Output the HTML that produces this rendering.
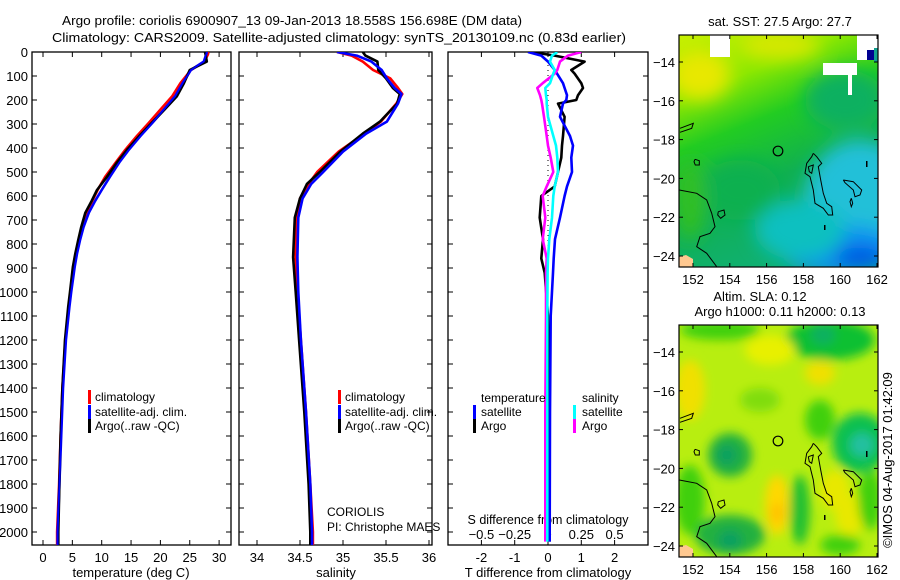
<!DOCTYPE html>
<html><head><meta charset="utf-8"><style>
html,body{margin:0;padding:0;background:#fff;}
svg{display:block;font-family:"Liberation Sans",sans-serif;}
text{fill:#000;}
</style></head><body>
<svg id="root" width="900" height="580" viewBox="0 0 900 580" xmlns="http://www.w3.org/2000/svg">
<defs>
<clipPath id="c1"><rect x="32" y="52" width="199" height="493"/></clipPath>
<clipPath id="c2"><rect x="239" y="52" width="193" height="493"/></clipPath>
<clipPath id="c3"><rect x="448" y="52" width="200" height="493"/></clipPath>
<clipPath id="m1"><rect x="679" y="35" width="199" height="232"/></clipPath>
<clipPath id="m2"><rect x="679" y="325" width="199" height="232"/></clipPath>
<filter id="bl" x="-50%" y="-50%" width="200%" height="200%"><feGaussianBlur stdDeviation="9"/></filter>
<filter id="bl2" x="-50%" y="-50%" width="200%" height="200%"><feGaussianBlur stdDeviation="5"/></filter>
<linearGradient id="sstg" x1="0" y1="0" x2="0.35" y2="1">
<stop offset="0" stop-color="#c8f000"/><stop offset="0.25" stop-color="#8ce800"/><stop offset="0.45" stop-color="#22cc22"/><stop offset="0.7" stop-color="#10b050"/><stop offset="1" stop-color="#10b070"/>
</linearGradient>
</defs>
<text x="292" y="25" font-size="13" text-anchor="middle" textLength="460" lengthAdjust="spacingAndGlyphs">Argo profile: coriolis 6900907_13 09-Jan-2013 18.558S 156.698E (DM data)</text>
<text x="339" y="42" font-size="13" text-anchor="middle" textLength="574" lengthAdjust="spacingAndGlyphs">Climatology: CARS2009. Satellite-adjusted climatology: synTS_20130109.nc (0.83d earlier)</text>
<g id="plots"></g>
<g id="maps"></g>
</svg>
<script>
// ---- Data ----
const tDepth = [0,10,40,75,130,185,240,296,350,408,460,520,575,620,670,730,784,840,895,1000,1062,1200,1400,1600,1800,2000,2055];
const tArgo  = [27.6,27.7,27.9,25.0,24.0,22.8,20.7,18.5,16.4,14.3,12.6,10.9,9.2,8.3,7.2,6.5,6.0,5.5,5.1,4.6,4.3,3.75,3.3,3.0,2.8,2.6,2.6];
const tClim  = [28.2,28.1,27.5,25.2,23.4,22.0,20.0,18.0,16.0,14.0,12.4,10.6,9.3,8.4,7.6,6.8,6.2,5.7,5.3,4.7,4.4,3.8,3.3,3.0,2.75,2.4,2.4];
const tSat   = [27.9,27.8,27.4,25.2,23.8,22.5,20.6,18.6,16.6,14.6,13.0,11.4,10.0,8.9,7.8,6.9,6.3,5.8,5.4,4.8,4.5,3.9,3.4,3.1,2.8,2.5,2.5];
const sDepth = [0,15,40,75,110,150,175,215,290,340,415,500,550,610,690,855,1000,1200,1500,1800,2000,2055];
const sArgo  = [35.23,35.26,35.40,35.41,35.50,35.58,35.66,35.63,35.43,35.23,34.97,34.73,34.58,34.50,34.44,34.42,34.45,34.49,34.55,34.60,34.62,34.62];
const sClim  = [34.93,35.10,35.23,35.35,35.55,35.64,35.69,35.62,35.44,35.25,34.95,34.70,34.60,34.50,34.46,34.45,34.47,34.51,34.57,34.62,34.65,34.65];
const sSat   = [34.93,35.16,35.33,35.45,35.51,35.60,35.68,35.64,35.51,35.27,35.00,34.77,34.63,34.53,34.48,34.47,34.48,34.51,34.57,34.62,34.64,34.64];
const dDepth = [0,15,40,75,90,130,150,180,200,215,270,350,390,440,500,560,600,690,780,860,920,1100,1500,2000,2040];
const dTArgo = [-0.5,0.2,1.1,0.7,0.8,1.0,1.05,0.9,0.85,0.3,0.5,0.45,0.42,0.4,0.3,0.2,-0.2,-0.25,-0.15,-0.2,-0.1,0.0,0.05,0.05,0.05];
const dTSat  = [-0.6,-0.2,0.0,0.2,0.27,0.45,0.5,0.57,0.55,0.45,0.36,0.66,0.75,0.7,0.72,0.57,0.5,0.36,0.21,0.17,0.15,0.08,0.06,0.05,0.05];
const dSSat  = [0.07,0.03,0.015,0.05,0.04,0.015,-0.02,-0.015,-0.01,-0.01,0.0,0.04,0.06,0.07,0.075,0.05,0.04,0.03,0.01,0.0,-0.003,-0.005,-0.005,-0.005,-0.005];
const dSArgo = [0.25,0.15,0.09,0.07,0.05,-0.04,-0.08,-0.06,-0.05,-0.045,-0.03,-0.01,0.0,0.02,0.04,-0.01,-0.04,-0.02,-0.04,-0.01,-0.015,-0.015,-0.02,-0.02,-0.02];
const depthTicks = [0,100,200,300,400,500,600,700,800,900,1000,1100,1200,1300,1400,1500,1600,1700,1800,1900,2000];
const tTicks = [0,5,10,15,20,25,30];
const sTicks = [34,34.5,35,35.5,36];
const dTTicks = [-2,-1,0,1,2];
const dSTicks = [-0.5,-0.25,0,0.25,0.5];
const lonTicks = [152,154,156,158,160,162];
const latTicks = [-14,-16,-18,-20,-22,-24];

const NS='http://www.w3.org/2000/svg';
const plots=document.getElementById('plots');
function mk(tag,attrs,parent){const e=document.createElementNS(NS,tag);for(const k in attrs)e.setAttribute(k,attrs[k]);(parent||plots).appendChild(e);return e;}
const TOP=52, BOT=545;
const Y=d=>52+d*0.24;
const xT=v=>43+v*5.87;
const xS=v=>257+(v-34)*86;
const xD=v=>548+v*33.3;
const xDS=v=>548+v*133.2;

function frame(x0,x1,name,labels){
  const g=mk('g',{});
  
  
  mk('rect',{x:x0,y:TOP,width:x1-x0,height:BOT-TOP,fill:'none',stroke:'#000','stroke-width':1.3},g);
  depthTicks.forEach(d=>{
    mk('line',{x1:x0,y1:Y(d),x2:x0+5,y2:Y(d),stroke:'#000'},g);
    mk('line',{x1:x1-5,y1:Y(d),x2:x1,y2:Y(d),stroke:'#000'},g);
    if(labels){const t=mk('text',{x:x0-4,y:Y(d)+5,'font-size':13,'text-anchor':'end'},g);t.textContent=d;
      }
  });
  return g;
}
function xticks(g,ticks,fx,top,bottom,labelY,fmt){
  ticks.forEach(v=>{
    const x=fx(v);
    if(top) mk('line',{x1:x,y1:TOP,x2:x,y2:TOP+5,stroke:'#000'},g);
    if(bottom) mk('line',{x1:x,y1:BOT-5,x2:x,y2:BOT,stroke:'#000'},g);
    if(labelY){const t=mk('text',{x:x,y:labelY,'font-size':13,'text-anchor':'middle'},g);t.textContent=fmt?fmt(v):v;
      }
  });
}
function line(xs,ds,fx,color,clip,name,w){
  let p='';xs.forEach((v,i)=>{p+=(i?'L':'M')+fx(v).toFixed(1)+','+Y(ds[i]).toFixed(1);});
  const e=mk('path',{d:p,fill:'none',stroke:color,'stroke-width':w||2.6,'clip-path':'url(#'+clip+')','stroke-linejoin':'round'});
  
  
}
function txt(x,y,s,name,anchor,size){const t=mk('text',{x:x,y:y,'font-size':size||12,'text-anchor':anchor||'start'});t.textContent=s;
  return t;}
function mark(x,y,c){mk('rect',{x:x,y:y-11,width:3,height:14,fill:c});}

// Panel 1
const g1=frame(32,231,'temperature-panel',true);
xticks(g1,tTicks,xT,true,true,562);
txt(131,577,'temperature (deg C)','temperature-axis-title','middle',13);
line(tClim,tDepth,xT,'#ff0000','c1','line-temp-climatology');
line(tSat,tDepth,xT,'#0000ff','c1','line-temp-satellite');
line(tArgo,tDepth,xT,'#000000','c1','line-temp-argo');
line(tSat,tDepth,xT,'#0000ff','c1','line-temp-satellite-top',1.8);
mark(88,401,'#ff0000');txt(95,401,'climatology','legend-climatology');
mark(88,416,'#0000ff');txt(95,416,'satellite-adj. clim.','legend-satellite');
mark(88,430,'#000');txt(95,430,'Argo(..raw -QC)','legend-argo');

// Panel 2
const g2=frame(239,432,'salinity-panel',false);
xticks(g2,sTicks,xS,true,true,562);
txt(336,577,'salinity','salinity-axis-title','middle',13);
line(sClim,sDepth,xS,'#ff0000','c2','line-sal-climatology');
line(sArgo,sDepth,xS,'#000000','c2','line-sal-argo');
line(sSat,sDepth,xS,'#0000ff','c2','line-sal-satellite');
mark(338,401,'#ff0000');txt(345,401,'climatology','legend2-climatology');
mark(338,416,'#0000ff');txt(345,416,'satellite-adj. clim.','legend2-satellite');
mark(338,430,'#000');txt(345,430,'Argo(..raw -QC)','legend2-argo');
txt(327,516,'CORIOLIS','institution-label');
txt(327,531,'PI: Christophe MAES','pi-label');

// Panel 3
const g3=frame(448,648,'difference-panel',false);
xticks(g3,dTTicks,xD,true,true,562);
xticks(g3,dSTicks,xDS,false,false,539,v=>v<0?'\u2212'+(-v):v);
txt(548,577,'T difference from climatology','t-diff-axis-title','middle',13);
txt(548,524,'S difference from climatology','s-diff-axis-title','middle',12.5);
mk('line',{x1:548,y1:60,x2:548,y2:532,stroke:'#000','stroke-dasharray':'1,4','stroke-width':1});
line(dTArgo,dDepth,xD,'#000000','c3','line-tdiff-argo');
line(dTSat,dDepth,xD,'#0000ff','c3','line-tdiff-satellite');
line(dSArgo,dDepth,xDS,'#ff00ff','c3','line-sdiff-argo');
line(dSSat,dDepth,xDS,'#00ffff','c3','line-sdiff-satellite');
txt(481,402,'temperature','legend3-temperature-heading');
mark(473,416,'#0000ff');txt(481,416,'satellite','legend3-t-satellite');
mark(473,430,'#000');txt(481,430,'Argo','legend3-t-argo');
txt(582,402,'salinity','legend3-salinity-heading');
mark(573,416,'#00ffff');txt(582,416,'satellite','legend3-s-satellite');
mark(573,430,'#ff00ff');txt(582,430,'Argo','legend3-s-argo');

// ---- Maps ----
const maps=document.getElementById('maps');
function mm(tag,attrs,parent){const e=document.createElementNS(NS,tag);for(const k in attrs)e.setAttribute(k,attrs[k]);(parent||maps).appendChild(e);return e;}
function coast(g,oy){
  const s=(pts)=>pts.map((p,i)=>(i?'L':'M')+(650+p[0]/3).toFixed(1)+','+(oy+p[1]/3).toFixed(1)).join('');
  const paths=[
   [[490,460],[500,470],[515,490],[505,500],[512,540],[520,580],[530,610],[545,620],[548,645],[535,645],[520,625],[495,610],[490,570],[480,530],[465,520],[470,490],[485,470],[490,460]],
   [[90,385],[130,370],[125,385],[90,397]],
   [[88,570],[140,580],[170,600],[185,640],[195,680],[180,700],[150,710],[140,740],[170,760],[200,800]],
   [[580,540],[610,545],[635,570],[630,585],[615,590],[610,570],[585,548],[580,540]],
   [[205,635],[222,630],[225,645],[212,655],[203,645],[205,635]],
   [[135,478],[148,482],[148,495],[136,495],[132,485],[135,478]],
   [[475,500],[490,495],[485,520],[478,515],[475,500]],
   [[604,595],[608,610],[604,620],[600,605],[604,595]]
  ];
  paths.forEach(p=>{mm('path',{d:s(p),fill:'none',stroke:'#000','stroke-width':1},g);});
  mm('circle',{cx:778,cy:oy+151,r:4.8,fill:'none',stroke:'#000','stroke-width':1.2},g);
  mm('rect',{x:866,y:oy+161,width:1.5,height:6,fill:'#000'},g);
  mm('rect',{x:824,y:oy+225,width:1.5,height:5,fill:'#000'},g);
  mm('path',{d:'M679,'+(oy+257)+'L686,'+(oy+255)+'L693,'+(oy+259)+'L693,'+(oy+267)+'L679,'+(oy+267)+'Z',fill:'#ffc890'},g);
}
function mapAxes(g,oy,name){
  const X=l=>693+(l-152)*18.4, Yl=l=>oy+62+(-14-l)*19.4;
  mm('rect',{x:679,y:oy+35,width:199,height:232,fill:'none',stroke:'#000','stroke-width':1.2},g);
  lonTicks.forEach(l=>{mm('line',{x1:X(l),y1:oy+35,x2:X(l),y2:oy+39,stroke:'#000'},g);mm('line',{x1:X(l),y1:oy+263,x2:X(l),y2:oy+267,stroke:'#000'},g);
    const t=mm('text',{x:X(l),y:oy+284,'font-size':13,'text-anchor':'middle'},g);t.textContent=l;
    });
  latTicks.forEach(l=>{mm('line',{x1:679,y1:Yl(l),x2:683,y2:Yl(l),stroke:'#000'},g);mm('line',{x1:874,y1:Yl(l),x2:878,y2:Yl(l),stroke:'#000'},g);
    const t=mm('text',{x:675,y:Yl(l)+5,'font-size':13,'text-anchor':'end'},g);t.textContent='\u2212'+(-l);
    });
}
// SST map
const mg1=mm('g',{});


const f1=mm('g',{'clip-path':'url(#m1)'},mg1);
mm('rect',{x:679,y:35,width:199,height:232,fill:'url(#sstg)'},f1);
const b1=mm('g',{filter:'url(#bl)'},f1);
mm('ellipse',{cx:700,cy:75,rx:30,ry:25,fill:'#e8e800'},b1);
mm('ellipse',{cx:780,cy:45,rx:40,ry:14,fill:'#d8e800'},b1);
mm('ellipse',{cx:845,cy:100,rx:40,ry:30,fill:'#10b060'},b1);
mm('ellipse',{cx:860,cy:200,rx:55,ry:60,fill:'#20c0d8'},b1);
mm('ellipse',{cx:840,cy:250,rx:60,ry:25,fill:'#1090f0'},b1);
mm('ellipse',{cx:800,cy:230,rx:45,ry:30,fill:'#10c0c0'},b1);
mm('ellipse',{cx:740,cy:190,rx:40,ry:30,fill:'#10b050'},b1);
mm('ellipse',{cx:690,cy:200,rx:15,ry:40,fill:'#30c020'},b1);
mm('ellipse',{cx:860,cy:257,rx:25,ry:10,fill:'#0050e0'},b1);
mm('rect',{x:710,y:35,width:20,height:22,fill:'#fff'},f1);
mm('rect',{x:823,y:63,width:34,height:12,fill:'#fff'},f1);
mm('rect',{x:848,y:63,width:4,height:32,fill:'#fff'},f1);
mm('rect',{x:857,y:35,width:21,height:25,fill:'#fff'},f1);
mm('rect',{x:867,y:50,width:7,height:10,fill:'#000090'},f1);
mm('rect',{x:874,y:48,width:4,height:14,fill:'#10a090'},f1);
coast(f1,0);
mapAxes(mg1,0,'sst-map');
txt(780,26,'sat. SST: 27.5 Argo: 27.7','sst-map-title','middle',13);
// SLA map
const mg2=mm('g',{});


const f2=mm('g',{'clip-path':'url(#m2)'},mg2);
mm('rect',{x:679,y:325,width:199,height:232,fill:'#b8ee10'},f2);
const b2=mm('g',{filter:'url(#bl2)'},f2);
[[830,340,45,20,'#10c030'],[823,335,12,10,'#10b060'],[720,330,40,10,'#40d010'],[730,455,22,22,'#20b040'],[727,455,10,10,'#10a060'],
 [860,443,28,30,'#10c050'],[862,445,12,12,'#20c0a0'],[730,535,35,20,'#20b040'],[730,540,12,10,'#10a060'],[690,390,15,30,'#f0e000'],
 [777,505,12,30,'#ffd800'],[777,513,6,10,'#ffc000'],[820,373,15,12,'#f0e000'],[770,350,25,15,'#e8f000'],[760,400,20,12,'#80dd10'],
 [800,510,10,35,'#20c030'],[835,490,15,20,'#e8e800'],[850,515,15,20,'#e8e800'],[870,500,12,30,'#40d010'],[690,500,15,35,'#40d010'],
 [820,420,15,20,'#40d010'],[840,545,20,10,'#40d010']].forEach(e=>mm('ellipse',{cx:e[0],cy:e[1],rx:e[2],ry:e[3],fill:e[4]},b2));
coast(f2,290);
mapAxes(mg2,290,'sla-map');
txt(760,301,'Altim. SLA: 0.12','sla-map-title-1','middle',13);
txt(780,316,'Argo h1000: 0.11 h2000: 0.13','sla-map-title-2','middle',13);
const cr=txt(892,460,'\u00A9IMOS 04-Aug-2017 01:42:09','timestamp-label','middle',13);
cr.setAttribute('transform','rotate(-90 892 460)');
</script>
</body></html>
